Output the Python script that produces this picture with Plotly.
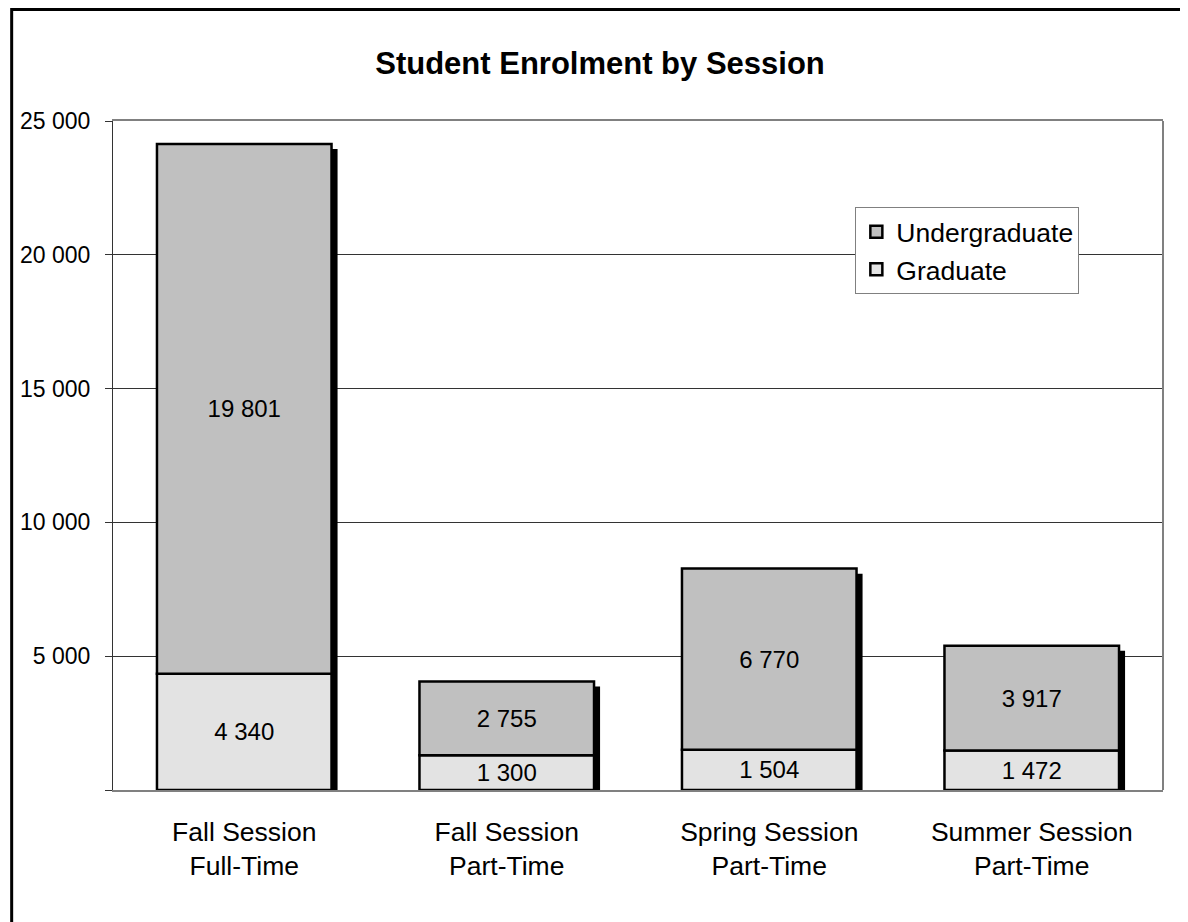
import plotly.graph_objects as go

# data
sessions = ["Fall Session<br>Full-Time", "Fall Session<br>Part-Time",
            "Spring Session<br>Part-Time", "Summer Session<br>Part-Time"]
graduate = [4340, 1300, 1504, 1472]
undergraduate = [19801, 2755, 6770, 3917]
y_ticks = [0, 5000, 10000, 15000, 20000, 25000]
y_tick_text = ["", "5 000", "10 000", "15 000", "20 000", "25 000"]

FONT = "Liberation Sans, Arial, sans-serif"
BAR_W = 0.665
totals = [g + u for g, u in zip(graduate, undergraduate)]

fig = go.Figure()

# drop shadow behind each stacked column (shifted right and down a few px)
fig.add_trace(go.Bar(
    x=sessions, y=[t - 190 for t in totals], base=0,
    width=BAR_W, offset=-BAR_W / 2 + 0.023,
    marker=dict(color="black", line=dict(width=0)),
    showlegend=False, hoverinfo="skip"
))

fig.add_trace(go.Bar(
    x=sessions, y=graduate, base=0, name="Graduate",
    width=BAR_W, offset=-BAR_W / 2,
    marker=dict(color="#E3E3E3", line=dict(color="black", width=2.5)),
    text=graduate, texttemplate="%{y:,}", textposition="inside",
    insidetextanchor="middle", textfont=dict(size=24, color="black"),
    legendrank=2
))

fig.add_trace(go.Bar(
    x=sessions, y=undergraduate, base=graduate, name="Undergraduate",
    width=BAR_W, offset=-BAR_W / 2,
    marker=dict(color="#C0C0C0", line=dict(color="black", width=2.5)),
    text=undergraduate, texttemplate="%{y:,}", textposition="inside",
    insidetextanchor="middle", textfont=dict(size=24, color="black"),
    legendrank=1
))

# page has an 8px body margin, so the figure is sized to fit the window
fig.update_layout(
    width=1180, height=914,
    barmode="overlay",
    separators=". ",
    font=dict(family=FONT, color="black", size=22),
    paper_bgcolor="white", plot_bgcolor="white",
    margin=dict(l=103, r=25, t=113, b=132),
    title=dict(text="<b>Student Enrolment by Session</b>",
               font=dict(size=31, color="black"),
               x=592 / 1180, xref="container", xanchor="center",
               y=1 - 55 / 914, yref="container", yanchor="middle"),
    legend=dict(x=0.707, y=0.8714, xanchor="left", yanchor="top",
                bgcolor="white", bordercolor="#808080", borderwidth=1,
                font=dict(size=26.5), itemwidth=30, tracegroupgap=0),
    uniformtext=dict(minsize=24, mode="show"),
    showlegend=True,
)

fig.update_yaxes(
    range=[0, 25000], tickvals=y_ticks, ticktext=y_tick_text,
    showgrid=True, gridcolor="#333333", gridwidth=1,
    showline=True, linecolor="#333333", linewidth=1,
    ticks="outside", ticklen=7, tickcolor="#333333",
    ticklabelstandoff=10, zeroline=False,
    tickfont=dict(size=23)
)
fig.update_xaxes(
    showline=True, linecolor="#808080", linewidth=2, mirror=True,
    ticks="", tickfont=dict(size=26.5), ticklabelstandoff=17,
    showgrid=False
)

# gray right border of the plot area, outer black frame of the chart
fig.add_shape(type="line", xref="paper", yref="paper",
              x0=1, x1=1, y0=0, y1=1, line=dict(color="#808080", width=2))
fig.add_shape(type="rect", xref="paper", yref="paper",
              x0=-0.0965, x1=1.2, y0=-0.3, y1=1.1667,
              line=dict(color="black", width=3), layer="below")

fig.write_html("out.html")
